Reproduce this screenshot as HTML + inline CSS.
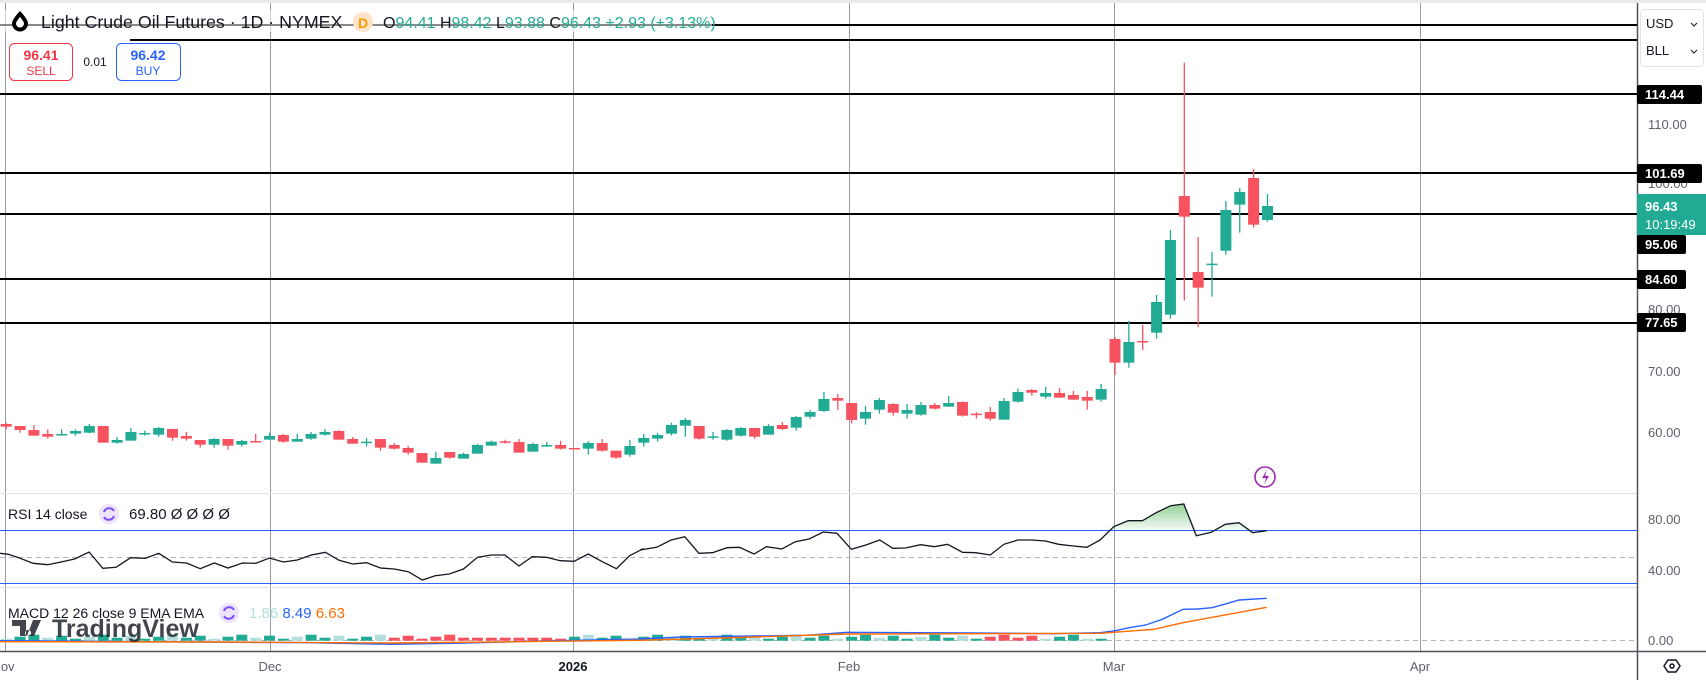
<!DOCTYPE html>
<html><head><meta charset="utf-8"><style>
html,body{margin:0;padding:0;width:1706px;height:680px;overflow:hidden;background:#fff;font-family:"Liberation Sans",sans-serif}
svg{position:absolute;left:0;top:0}
.t{font-family:"Liberation Sans",sans-serif}
</style></head><body>
<svg id="s" width="1706" height="680" xmlns="http://www.w3.org/2000/svg">
<rect x="0" y="0" width="1706" height="3" fill="#e9e9ea"/>
<g id="grid" stroke="#9a9ca5" stroke-width="1">
<line x1="5.5" y1="3" x2="5.5" y2="651"/>
<line x1="270.5" y1="3" x2="270.5" y2="651"/>
<line x1="573.5" y1="3" x2="573.5" y2="651"/>
<line x1="849.5" y1="3" x2="849.5" y2="651"/>
<line x1="1114.5" y1="3" x2="1114.5" y2="651"/>
<line x1="1420.5" y1="3" x2="1420.5" y2="651"/>
</g>
<g stroke="#e0e3eb" stroke-width="1">
<line x1="0" y1="493.5" x2="1637" y2="493.5"/>
<line x1="0" y1="587.5" x2="1637" y2="587.5"/>
</g>
<line x1="0" y1="651.5" x2="1706" y2="651.5" stroke="#50535e" stroke-width="1.5"/>
<line x1="1637.5" y1="3" x2="1637.5" y2="680" stroke="#50535e" stroke-width="1.5"/>
<line x1="0" y1="530.5" x2="1637" y2="530.5" stroke="#2962ff" stroke-width="1"/>
<line x1="0" y1="583.5" x2="1637" y2="583.5" stroke="#2962ff" stroke-width="1"/>
<line x1="0" y1="557.5" x2="1637" y2="557.5" stroke="#b2b5be" stroke-dasharray="5,4"/>
<line x1="0" y1="640.5" x2="1637" y2="640.5" stroke="#b2b5be" stroke-dasharray="5,4"/>
<g stroke="#000" stroke-width="2">
<line x1="0" y1="25" x2="1637" y2="25"/>
<line x1="130" y1="40" x2="1637" y2="40"/>
<line x1="0" y1="94" x2="1637" y2="94"/>
<line x1="0" y1="173" x2="1637" y2="173"/>
<line x1="0" y1="214" x2="1637" y2="214"/>
<line x1="0" y1="279" x2="1637" y2="279"/>
<line x1="0" y1="323" x2="1637" y2="323"/>
</g>
<g id="candles"></g>
<g id="ind"></g>
<rect x="0" y="10" width="712" height="22" fill="#fff" opacity="0.55"/>
<line x1="0" y1="25" x2="712" y2="25" stroke="#888" stroke-width="2"/>
<path d="M20 11 C20 11 12 19 12 23.5 A8 8 0 0 0 28 23.5 C28 19 20 11 20 11Z" fill="#000"/>
<path d="M20 17 C20 17 16 21.5 16 23.5 A4 4 0 0 0 24 23.5 C24 21.5 20 17 20 17Z" fill="#fff"/>
<text x="41" y="28" class="t" font-size="17.8" fill="#131722">Light Crude Oil Futures · 1D · NYMEX</text>
<circle cx="363" cy="22" r="10" fill="#fde3c8"/>
<text x="363" y="28" class="t" font-size="14" fill="#ff9800" text-anchor="middle" font-weight="bold">D</text>
<text x="383" y="28" class="t" font-size="16" fill="#131722">O<tspan fill="#22ab94">94.41</tspan> H<tspan fill="#22ab94">98.42</tspan> L<tspan fill="#22ab94">93.88</tspan> C<tspan fill="#22ab94">96.43 +2.93 (+3.13%)</tspan></text>
<rect x="9.5" y="43.5" width="63" height="37" rx="5" fill="#fff" stroke="#f23645"/>
<text x="41" y="60" class="t" font-size="14" font-weight="bold" fill="#f23645" text-anchor="middle">96.41</text>
<text x="41" y="75" class="t" font-size="12" fill="#f23645" text-anchor="middle">SELL</text>
<text x="95" y="66" class="t" font-size="12" fill="#131722" text-anchor="middle">0.01</text>
<rect x="116.5" y="43.5" width="64" height="37" rx="5" fill="#fff" stroke="#2962ff"/>
<text x="148" y="60" class="t" font-size="14" font-weight="bold" fill="#2962ff" text-anchor="middle">96.42</text>
<text x="148" y="75" class="t" font-size="12" fill="#2962ff" text-anchor="middle">BUY</text>
<rect x="1640.5" y="9.5" width="63" height="57" rx="4" fill="#fff" stroke="#e0e3eb"/>
<text x="1646" y="28" class="t" font-size="13" fill="#131722">USD</text>
<text x="1646" y="55" class="t" font-size="13" fill="#131722">BLL</text>
<path d="M1691 23 l3 3 l3 -3 M1691 50 l3 3 l3 -3" stroke="#131722" fill="none"/>
<g class="t" font-size="13" fill="#5d606b">
<text x="1648" y="129">110.00</text>
<text x="1648" y="188">100.00</text>
<text x="1648" y="314">80.00</text>
<text x="1648" y="376">70.00</text>
<text x="1648" y="437">60.00</text>
<text x="1648" y="524">80.00</text>
<text x="1648" y="575">40.00</text>
<text x="1648" y="645">0.00</text>
</g>
<g class="t" font-size="13" font-weight="bold" fill="#fff">
<rect x="1637" y="85" width="65" height="19" rx="2" fill="#000"/><text x="1645" y="99">114.44</text>
<rect x="1637" y="164" width="65" height="19" rx="2" fill="#000"/><text x="1645" y="178">101.69</text>
<rect x="1637" y="194" width="69" height="41" fill="#22ab94"/><text x="1645" y="211">96.43</text><text x="1645" y="229" font-weight="normal">10:19:49</text>
<rect x="1637" y="235" width="49" height="19" rx="2" fill="#000"/><text x="1645" y="249">95.06</text>
<rect x="1637" y="270" width="49" height="19" rx="2" fill="#000"/><text x="1645" y="284">84.60</text>
<rect x="1637" y="313" width="49" height="19" rx="2" fill="#000"/><text x="1645" y="327">77.65</text>
</g>
<g class="t" font-size="13" fill="#5d606b" text-anchor="middle">
<text x="3" y="671">Nov</text>
<text x="270" y="671">Dec</text>
<text x="573" y="671" font-weight="bold" fill="#131722">2026</text>
<text x="849" y="671">Feb</text>
<text x="1114" y="671">Mar</text>
<text x="1420" y="671">Apr</text>
</g>
<path d="M1664 666 l4 -6 h8 l4 6 l-4 6 h-8z" fill="none" stroke="#131722" stroke-width="1.5"/>
<circle cx="1672" cy="666" r="2" fill="none" stroke="#131722" stroke-width="1.5"/>
<circle cx="1265" cy="477" r="10" fill="#fff" stroke="#9c27b0" stroke-width="1.6"/>
<path d="M1267 470 l-5 8 h4 l-2 6 l5 -8 h-4z" fill="#9c27b0"/>
<text x="8" y="519" class="t" font-size="14" fill="#131722">RSI 14 close</text>
<circle cx="109" cy="514" r="10" fill="#ede4fb"/>
<path d="M104 512 a5.5 5.5 0 0 1 10 -1 M114 516 a5.5 5.5 0 0 1 -10 1" stroke="#7c4dff" stroke-width="2" fill="none"/>
<text x="129" y="519" class="t" font-size="15" fill="#131722">69.80 &#216; &#216; &#216; &#216;</text>
<text x="8" y="618" class="t" font-size="14" fill="#131722">MACD 12 26 close 9 EMA EMA</text>
<circle cx="229" cy="613" r="10" fill="#ede4fb"/>
<path d="M224 611 a5.5 5.5 0 0 1 10 -1 M234 615 a5.5 5.5 0 0 1 -10 1" stroke="#7c4dff" stroke-width="2" fill="none"/>
<text x="249" y="618" class="t" font-size="15" fill="#b2dfdb">1.86 <tspan fill="#2962ff">8.49</tspan> <tspan fill="#ff6d00">6.63</tspan></text>
<text x="52" y="637" class="t" font-size="25" font-weight="bold" fill="#131722" opacity="0.8">TradingView</text>
<path d="M12 620 h14 v16 h-6 v-10 h-8z M28 630 a3 3 0 1 0 0.1 0 M33 620 h8 l-7 16 h-7z" fill="#131722" opacity="0.8"/>
</svg>
<script>
var S="http://www.w3.org/2000/svg";
function el(p,n,a){var e=document.createElementNS(S,n);for(var k in a)e.setAttribute(k,a[k]);p.appendChild(e);return e;}
var G="#22ab94",R="#f7525f";
var A=[
"r 162 170 158 178","r 168 180 168 188","r 180 197 165 197","r 192 200 178 206","g 194 192 178 197","g 191 183 178 197","g 188 168 162 190","r 168 218 168 218","g 218 210 201 221","g 212 186 174 212","g 191 189 182 197","g 194 174 171 200","r 177 203 177 212","r 198 206 186 212","r 210 224 210 233","g 224 207 204 233","r 207 227 207 239","g 224 213 210 230","r 213 215 192 218","g 209 198 188 209","r 195 215 192 218","g 215 207 192 215","g 206 192 186 209","g 194 186 177 197","r 183 209 180 209","r 207 221 201 221","g 217 215 204 230","r 207 233 207 242","r 225 236 219 239","r 234 248 228 254","r 249 278 249 278","g 281 264 245 281","r 246 263 246 266","g 266 252 248 266","g 251 225 222 251","g 227 215 212 227","r 214 218 209 221","r 216 248 207 248","g 245 222 218 245","g 227 225 216 231","r 225 236 212 239","r 234 236 234 236","g 236 219 213 254","r 219 242 207 245","r 242 263 242 266","g 254 228 210 260","g 218 204 192 230",
"g 206 195 188 215","g 191 165 158 197","g 167 150 144 200","r 168 206 168 209","g 201 199 186 209","g 209 180 177 212","g 197 174 171 200","r 174 200 174 206","g 194 168 162 194","r 165 177 156 180","g 173 141 138 182","g 140 126 120 146","g 123 87 66 126","r 84 92 72 120","r 99 150 99 160","g 146 126 108 164","g 119 90 84 131","r 102 128 99 137","g 131 120 102 146","g 134 105 96 137","r 105 116 99 119","g 110 99 78 110","r 96 137 94 140","r 131 133 126 146","r 126 146 111 152","g 149 93 84 149","g 95 66 56 98","r 60 68 57 77","g 80 69 51 86","r 69 83 54 83","r 75 89 63 89","r 81 92 63 119","g 89 57 42 95"];
var B=["r 867 938 861 975","g 938 876 813 953","r 873 876 825 900","g 848 756 735 866","g 794 570 540 806","r 438 500 38 752","r 666 713 561 832","g 645 641 606 740","g 602 480 453 614","g 464 426 414 548","r 384 524 357 533","g 510 468 432 515"];
var cg=document.getElementById("candles");
var all=[];
A.forEach(function(s){var p=s.split(" ");all.push([p[0],370+p[1]/3,370+p[2]/3,370+p[3]/3,370+p[4]/3]);});
B.forEach(function(s){var p=s.split(" ");all.push([p[0],50+p[1]/3,50+p[2]/3,50+p[3]/3,50+p[4]/3]);});
all.forEach(function(c,k){var x=6.2+k*13.86;var col=c[0]=="g"?G:R;
var t=Math.min(c[1],c[2]),b=Math.max(c[1],c[2]);if(b-t<1.5){b=t+1.5;}
el(cg,"line",{x1:x,x2:x,y1:Math.min(c[3],t),y2:Math.max(c[4],b),stroke:col,"stroke-width":1.3});
el(cg,"rect",{x:x-5.5,y:t,width:11,height:b-t,fill:col});});
var ind=document.getElementById("ind");
var r1=[[0,190],[20,193],[45,203],[80,220],[115,224],[150,215],[180,207],[215,186],[248,235],[280,232],[315,203],[350,205],[383,190],[416,216],[450,219],[483,236],[517,219],[550,234],[585,219],[617,220],[650,204],[684,216],[717,210],[751,195],[785,187],[818,211],[851,222],[884,218],[918,234],[951,237],[985,245],[1019,270],[1050,257],[1084,252],[1118,237],[1152,202],[1185,195],[1218,195],[1252,228],[1284,200],[1318,202],[1352,212],[1385,214],[1419,192],[1453,215],[1487,236],[1519,197],[1552,176]];
var r2=[[0,180],[40,172],[75,150],[108,140],[142,190],[175,188],[210,173],[240,172],[275,192],[305,170],[342,177],[375,155],[408,147],[442,126],[475,130],[510,178],[545,165],[578,150],[610,175],[640,174],[677,164],[710,170],[742,163],[778,187],[810,188],[845,195],[878,163],[912,150],[945,150],[978,153],[1010,163],[1045,168],[1078,172],[1110,150],[1143,110],[1178,92],[1212,92],[1245,68],[1280,47],[1312,42],[1342,137],[1378,127],[1412,103],[1445,98],[1478,128],[1512,122]];
var pts=[];r1.forEach(function(p){pts.push([p[0]*0.4145,490+p[1]/3]);});
r2.forEach(function(p){pts.push([640+p[0]*0.4145,490+p[1]/3]);});
var d=pts.map(function(p,i){return (i?"L":"M")+p[0].toFixed(1)+" "+p[1].toFixed(1);}).join(" ");
var ov=pts.filter(function(p){return p[0]>=1110&&p[0]<=1274;});
var fd="M1110 530.3 "+ov.map(function(p){return "L"+p[0].toFixed(1)+" "+Math.min(p[1],530.3).toFixed(1);}).join(" ")+" L1274 530.3Z";
var lg=el(ind,"linearGradient",{id:"gf",x1:0,y1:0,x2:0,y2:1});
el(lg,"stop",{offset:"0","stop-color":"#4caf50","stop-opacity":"0.6"});
el(lg,"stop",{offset:"1","stop-color":"#4caf50","stop-opacity":"0.05"});
el(ind,"path",{d:fd,fill:"url(#gf)"});
el(ind,"path",{d:d,fill:"none",stroke:"#131722","stroke-width":1.3});
for(var k=0;k<92;k++){var x=6.2+k*13.86;var h,col;
if(k<80){h=2+((k*7)%5);col=(k>=28&&k<=40)||(k>=71&&k<=74)?"#f7525f":((k%3==0)?"#b2dfdb":G);if(k>=33&&k<=39)h=3;}
else{var top=[443,437,434,428,416,408,416,420,416,413,420,423][k-80];h=(452-top)/3;col=[G,G,G,G,G,G,"#b2dfdb","#b2dfdb",G,G,"#b2dfdb","#b2dfdb"][k-80];}
if(k>=78&&k<80)h=2;
el(ind,"rect",{x:x-5.5,y:640.7-h,width:11,height:h,fill:col});}
function pl(arr,c){var s=arr.map(function(p,i){return (i?"L":"M")+(640+p[0]*0.4145).toFixed(1)+" "+(490+p[1]/3).toFixed(1);}).join(" ");
el(ind,"path",{d:s,fill:"none",stroke:c,"stroke-width":1.4});}
pl([[-1544,452],[-1200,455],[-800,458],[-600,463],[-450,460],[-200,452],[0,447],[100,441],[400,436],[500,427],[800,429],[1000,431],[1110,428],[1143,423],[1180,413],[1220,405],[1260,388],[1310,358],[1345,357],[1380,353],[1410,343],[1445,330],[1512,325]],"#2962ff");
pl([[-1544,455],[-1000,456],[-600,459],[-300,455],[0,451],[300,440],[500,432],[800,431],[1110,430],[1240,418],[1310,398],[1512,352]],"#ff6d00");
</script>
</body></html>
